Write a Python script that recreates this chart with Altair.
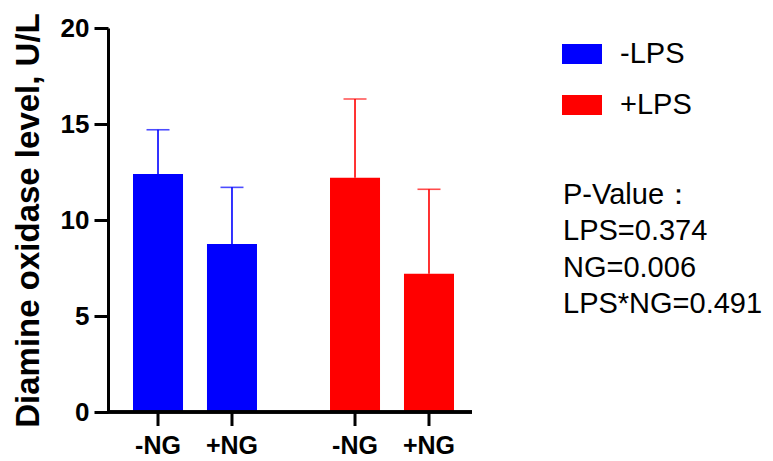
import altair as alt
import pandas as pd

# ---- data ----
lps = ["-LPS", "-LPS", "+LPS", "+LPS"]
ng = ["-NG", "+NG", "-NG", "+NG"]
means = [12.4, 8.75, 12.2, 7.2]
errs = [2.3, 2.95, 4.1, 4.4]
y_ticks = [0, 5, 10, 15, 20]
lps_order = ["-LPS", "+LPS"]
ng_order = ["-NG", "+NG"]
colors = ["#0000FF", "#FF0000"]
pvalue_lines = ["P-Value\uff1a", "LPS=0.374", "NG=0.006", "LPS*NG=0.491"]

df = pd.DataFrame({"lps": lps, "ng": ng, "mean": means, "err": errs})

W, H = 364, 384
FONT = "Liberation Sans"

x_enc = alt.X(
    "lps:N",
    sort=lps_order,
    scale=alt.Scale(paddingInner=0.3706, paddingOuter=0, range=[25, 346]),
    axis=None,
)
xo_enc = alt.XOffset("ng:N", sort=ng_order, scale=alt.Scale(paddingInner=0.324, paddingOuter=0))

y_axis = alt.Axis(
    values=y_ticks,
    title="Diamine oxidase level, U/L",
    titleFontSize=33,
    titleFontWeight="bold",
    titleColor="black",
    titlePadding=15,
    labelFontSize=26,
    labelFontWeight="bold",
    labelColor="black",
    labelPadding=5,
    tickSize=14,
    tickWidth=3,
    tickColor="black",
    domainWidth=3,
    domainColor="black",
    grid=False,
)
y_scale = alt.Scale(domain=[0, 20], nice=False)

color_scale = alt.Scale(domain=lps_order, range=colors)

base = alt.Chart(df)

bars = base.mark_bar().encode(
    x=x_enc,
    xOffset=xo_enc,
    y=alt.Y("mean:Q", scale=y_scale, axis=y_axis),
    color=alt.Color(
        "lps:N",
        scale=color_scale,
        legend=alt.Legend(
            title=None,
            orient="none",
            legendX=454,
            legendY=6,
            symbolType="M-1,-0.5L1,-0.5L1,0.5L-1,0.5Z",
            symbolSize=1600,
            symbolStrokeWidth=0,
            labelFontSize=29,
            labelFont=FONT,
            labelColor="black",
            labelOffset=18,
            rowPadding=16,
            padding=0,
        ),
    ),
)

err_rule = base.transform_calculate(upper="datum.mean + datum.err").mark_rule(strokeWidth=1.6).encode(
    x=x_enc,
    xOffset=xo_enc,
    y=alt.Y("mean:Q", scale=y_scale, axis=y_axis),
    y2="upper:Q",
    color=alt.Color("lps:N", scale=color_scale, legend=None),
)

err_cap = base.transform_calculate(upper="datum.mean + datum.err").mark_tick(
    size=23, thickness=1.6, orient="horizontal"
).encode(
    x=x_enc,
    xOffset=xo_enc,
    y=alt.Y("upper:Q", scale=y_scale, axis=y_axis),
    color=alt.Color("lps:N", scale=color_scale, legend=None),
)

baseline = base.mark_rule(strokeWidth=3, color="black").encode(
    x=alt.value(0), x2=alt.value(W), y=alt.datum(0)
)

xticks = base.mark_rule(strokeWidth=3, color="black").encode(
    x=x_enc, xOffset=xo_enc, y=alt.value(H), y2=alt.value(H + 14)
)

xlabels = base.mark_text(
    baseline="alphabetic", fontSize=25, fontWeight="bold", color="black", font=FONT
).encode(x=x_enc, xOffset=xo_enc, y=alt.value(426), text="ng:N")

ptext = alt.Chart(pd.DataFrame({"k": [0]})).mark_text(
    align="left", baseline="alphabetic", fontSize=29, lineHeight=36.3, color="black", font=FONT
).encode(x=alt.value(455), y=alt.value(176), text=alt.value(pvalue_lines))

chart = (
    alt.layer(bars, err_rule, err_cap, baseline, xticks, xlabels, ptext)
    .properties(
        width=W,
        height=H,
        padding={"left": 100, "top": 20, "right": 293, "bottom": 50},
        autosize=alt.AutoSizeParams(type="none"),
    )
    .configure(font=FONT)
    .configure_view(stroke=None)
)

chart.save("out.html", embed_options={"renderer": "svg", "actions": False})
